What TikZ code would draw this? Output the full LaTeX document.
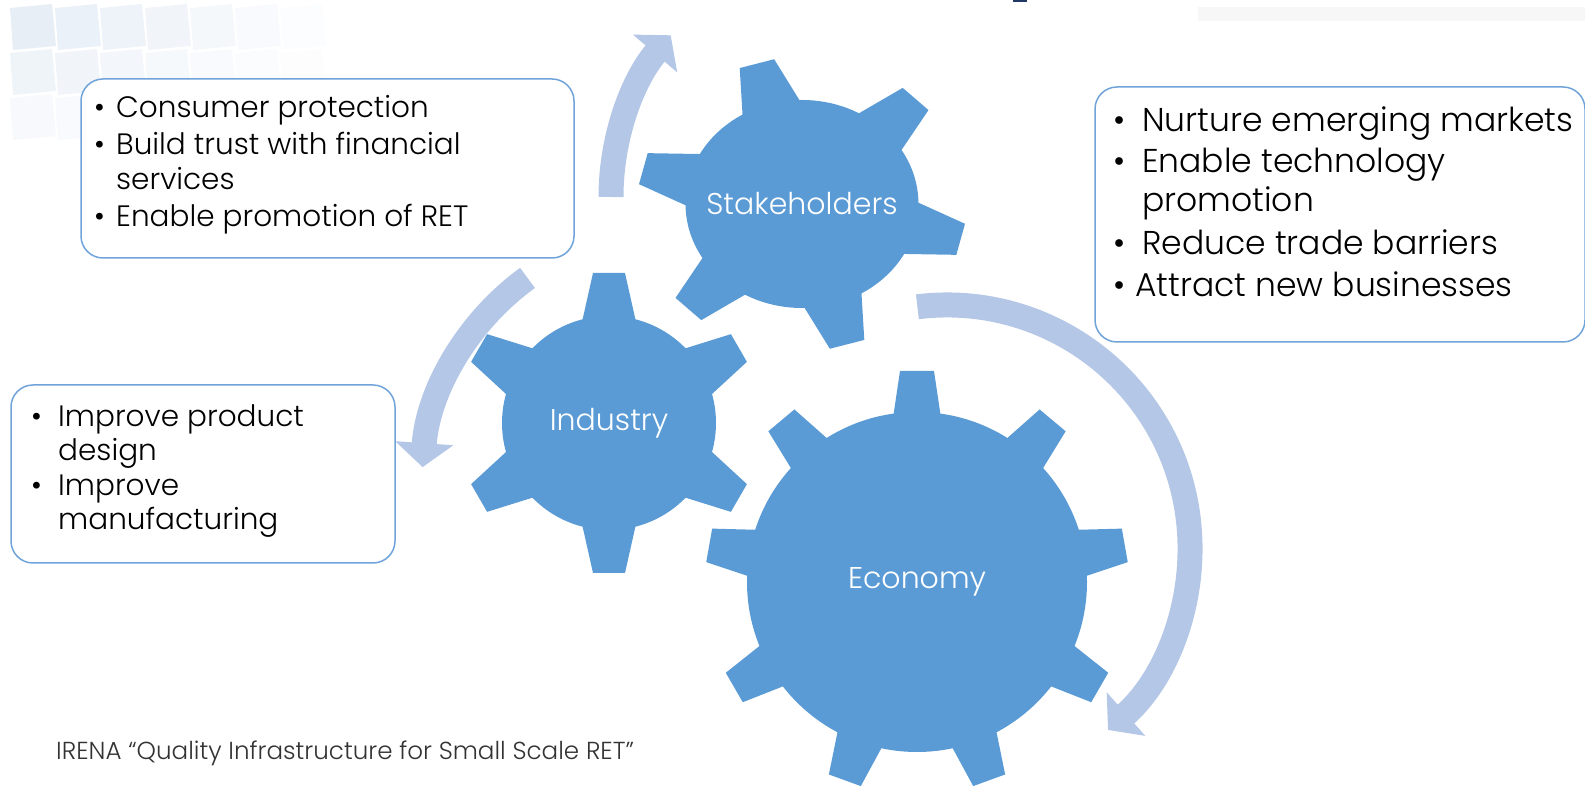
\documentclass[tikz,border=0pt]{standalone}
\usepackage{fontspec}
\IfFontExistsTF{Poppins Light}{\setmainfont{Poppins Light}}{\setmainfont{Poppins}}
\usetikzlibrary{arrows.meta}

\definecolor{gearblue}{HTML}{5B9BD5}
\definecolor{bandblue}{HTML}{B4C7E7}
\definecolor{boxline}{HTML}{6FA3D9}
\definecolor{wmblue}{HTML}{C9DAEC}
\definecolor{navy}{HTML}{1F3864}

% bullet with its own gap to the text
\newcommand{\bul}[1][22pt]{\makebox[#1][l]{\textbullet}}

% gear: centre, teeth, first tooth angle, body r, tip r, half width at base, at tip, xscale
\newcommand{\gear}[8]{%
  \begin{scope}[shift={(#1)},xscale=#8]
    \fill[gearfill] (0,0) circle[radius=#4];
    \foreach \k in {1,...,#2}{
      \fill[gearfill,rotate={#3+(\k-1)*360/#2}]
        (#4-6,-#6) -- (#5,-#7) -- (#5,#7) -- (#4-6,#6) -- cycle;
    }
  \end{scope}}

\tikzset{
  gearfill/.style={fill=gearblue},
  band/.style={draw=bandblue,line width=25pt,-{Triangle[width=57pt,length=24pt]}},
  infobox/.style={draw=boxline,line width=1.5pt,rounded corners=22pt,fill=white},
  txt/.style={anchor=base west,inner sep=0pt,font=\fontsize{29.5}{35}\selectfont},
  bigtxt/.style={txt,font=\fontsize{33}{40}\selectfont},
  gearlabel/.style={text=white,inner sep=0pt,font=\fontsize{30}{36}\selectfont},
}

\begin{document}
\begin{tikzpicture}[x=1pt,y=1pt]
    \useasboundingbox (0,0) rectangle (1585,787);

    % faint tiles in the upper left corner
    \foreach \i in {0,...,6}{
      \foreach \j in {0,1,2}{
        \pgfmathsetmacro\op{0.45*(1-\i/7)*(1-\j/3)}
        \fill[wmblue,opacity=\op] (10+\i*45,779-\j*45) -- (52+\i*45,783-\j*45)
          -- (56+\i*45,741-\j*45) -- (13+\i*45,737-\j*45) -- cycle;
      }
    }
    \fill[navy] (1013,785) rectangle (1027,787);
    \fill[black!3] (1198,780) rectangle (1585,766);

    % turning arrows
    \draw[band] (611,590) arc[start angle=180,end angle=139.5,radius=249];
    \draw[band] (527.5,509.1) arc[start angle=126,end angle=176,radius=256];
    \draw[band] (917.4,480.2) arc[start angle=97,end angle=-48.5,radius=243];

    % gears
    \coordinate (stakeC) at (802,583);
    \coordinate (indusC) at (609,364);
    \coordinate (econC) at (917,205);
    \gear{stakeC}{6}{106}{104}{146}{27}{16}{1.12}
    \gear{indusC}{6}{90}{107}{150}{27}{16}{1}
    \gear{econC}{9}{90}{170}{211}{24}{17}{1}
    \node[gearlabel] (stake) at (stakeC) {Stakeholders};
    \node[gearlabel] (indus) at (indusC) {Industry};
    \node[gearlabel] (econ) at (econC) {Economy};

    % text boxes
    \node[infobox,minimum width=493pt,minimum height=179pt] (cbox) at (327.5,618.5) {};
    \node[txt] (cons) at (94,669) {\bul Consumer protection};
    \node[txt] (trust) at (94,632) {\bul Build trust with financial};
    \node[txt] (serv) at (116,597) {services};
    \node[txt] (ret) at (94,560) {\bul Enable promotion of RET};

    \node[infobox,minimum width=490pt,minimum height=255pt] (mbox) at (1340,572.5) {};
    \node[bigtxt] (nurt) at (1113,655) {\bul[29pt]Nurture emerging markets};
    \node[bigtxt] (tech) at (1113,614) {\bul[29pt]Enable technology};
    \node[bigtxt] (promo) at (1142,575) {promotion};
    \node[bigtxt] (trade) at (1113,532) {\bul[29pt]Reduce trade barriers};
    \node[bigtxt] (attr) at (1113,490) {\bul[22pt]Attract new businesses};

    \node[infobox,minimum width=384pt,minimum height=178pt] (pbox) at (203,313) {};
    \node[txt] (prod) at (31,360) {\bul[27pt]Improve product};
    \node[txt] (desg) at (58,326) {design};
    \node[txt] (manu) at (31,291) {\bul[27pt]Improve};
    \node[txt] (manf) at (58,257) {manufacturing};

    \node[anchor=base west,inner sep=0pt,text=black!80,font=\fontsize{24.6}{29}\selectfont]
      (cite) at (56,27) {IRENA “Quality Infrastructure for Small Scale RET”};
\end{tikzpicture}
\end{document}
